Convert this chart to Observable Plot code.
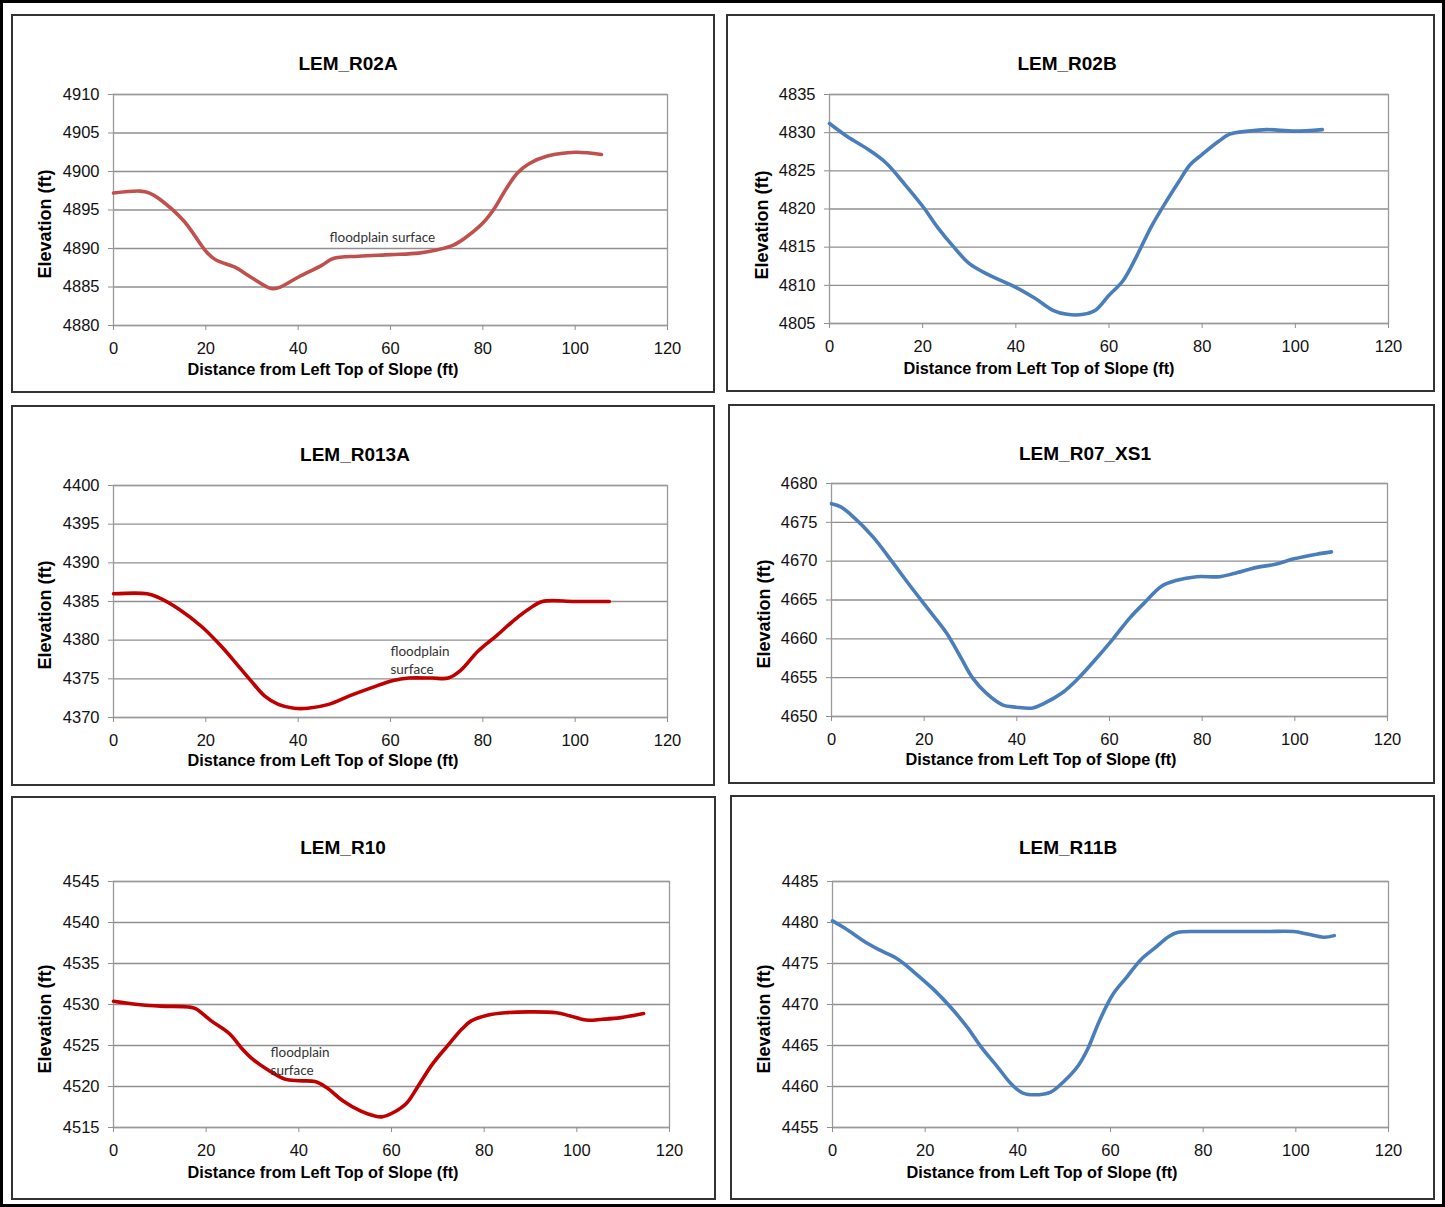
<!DOCTYPE html>
<html>
<head>
<meta charset="utf-8">
<script src="https://cdn.jsdelivr.net/npm/d3@7"></script>
<script src="https://cdn.jsdelivr.net/npm/@observablehq/plot@0.6"></script>
<style>
  html, body { margin: 0; padding: 0; background: #fff; }
  #page { position: relative; width: 1445px; height: 1207px; box-sizing: border-box; border: 3px solid #000; overflow: hidden; }
  .panel { position: absolute; box-sizing: border-box; border: 2px solid #333; background: #fff; overflow: visible; }
  .panel svg { position: absolute; left: -2px; top: -2px; max-width: none !important; }
  .title { position: absolute; transform: translate(-50%, -50%); font: bold 19px "Liberation Sans", Arial, sans-serif; color: #000; white-space: nowrap; }
  .xtitle { position: absolute; transform: translate(-50%, -50%); font: bold 16.3px "Liberation Sans", Arial, sans-serif; color: #000; white-space: nowrap; }
  .ytitle { position: absolute; transform: translate(-50%, -50%) rotate(-90deg); font: bold 18px "Liberation Sans", Arial, sans-serif; color: #000; white-space: nowrap; }
</style>
</head>
<body>
<div id="page"></div>
<script>
// ---------- data ----------
const titles = ["LEM_R02A", "LEM_R02B", "LEM_R013A", "LEM_R07_XS1", "LEM_R10", "LEM_R11B"];
const xTicks = [0, 20, 40, 60, 80, 100, 120];
const yTicksR02A = [4880, 4885, 4890, 4895, 4900, 4905, 4910];
const yTicksR02B = [4805, 4810, 4815, 4820, 4825, 4830, 4835];
const yTicksR013A = [4370, 4375, 4380, 4385, 4390, 4395, 4400];
const yTicksR07 = [4650, 4655, 4660, 4665, 4670, 4675, 4680];
const yTicksR10 = [4515, 4520, 4525, 4530, 4535, 4540, 4545];
const yTicksR11B = [4455, 4460, 4465, 4470, 4475, 4480, 4485];

const distR02A = [0, 5.8, 7.8, 9.8, 15.2, 20.2, 22.2, 26.2, 29.7, 34.2, 35.7, 40.1, 45.1, 47.6, 53.1, 60.1, 66.1, 70, 73.5, 76, 80, 82.5, 85, 87.5, 90, 94, 100, 105.7];
const elevR02A = [4897.2, 4897.45, 4897.2, 4896.5, 4893.6, 4889.5, 4888.5, 4887.6, 4886.3, 4884.8, 4884.9, 4886.3, 4887.8, 4888.7, 4889.0, 4889.2, 4889.4, 4889.8, 4890.4, 4891.3, 4893.3, 4895.2, 4897.7, 4899.8, 4901.0, 4902.0, 4902.5, 4902.2];

const distR02B = [0, 3.8, 8.3, 12.2, 16.2, 20.2, 23.2, 26.7, 30.1, 34.1, 40.1, 44.1, 48.1, 51, 54.5, 57, 60, 63, 66, 69, 71.9, 74.9, 77.4, 79.9, 83.4, 85.9, 89.9, 93.8, 99.8, 105.8];
const elevR02B = [4831.2, 4829.5, 4827.8, 4826.0, 4823.2, 4820.2, 4817.6, 4815.0, 4812.8, 4811.4, 4809.7, 4808.3, 4806.7, 4806.2, 4806.2, 4806.7, 4808.7, 4810.6, 4813.9, 4817.6, 4820.6, 4823.5, 4825.8, 4827.1, 4828.8, 4829.8, 4830.2, 4830.4, 4830.2, 4830.4];

const distR013A = [0, 7.3, 9.8, 14.2, 19.2, 23.2, 26.7, 29.7, 32.7, 35.7, 39.1, 42.1, 46.6, 51.1, 56.1, 60.6, 64.0, 69, 72.5, 75, 79, 83, 87, 89.9, 92.9, 99.9, 107.4];
const elevR013A = [4386, 4386, 4385.5, 4384.0, 4381.7, 4379.3, 4376.9, 4374.8, 4372.8, 4371.7, 4371.2, 4371.2, 4371.7, 4372.8, 4373.9, 4374.8, 4375.1, 4375.1, 4375.1, 4376.0, 4378.6, 4380.6, 4382.7, 4384.0, 4385.0, 4385.0, 4385.0];

const distR07 = [0, 2, 4, 9, 13, 17, 20.9, 24.9, 27.9, 30.4, 33.4, 36.9, 39.9, 43.4, 45.9, 49.9, 52.9, 56.9, 60.9, 64.4, 67.3, 71.3, 74.3, 78.8, 83.8, 86.8, 91.8, 95.8, 99.8, 104.7, 107.9];
const elevR07 = [4677.4, 4677.0, 4676.1, 4673.1, 4670.0, 4666.8, 4663.8, 4660.7, 4657.6, 4655.0, 4653.0, 4651.5, 4651.2, 4651.1, 4651.7, 4653.1, 4654.7, 4657.3, 4660.1, 4662.7, 4664.5, 4666.8, 4667.5, 4668.0, 4668.0, 4668.4, 4669.2, 4669.6, 4670.3, 4670.9, 4671.2];

const distR10 = [0, 5.3, 10.2, 16.2, 17.7, 21.1, 25.1, 27.6, 30.1, 33.1, 37.0, 40, 43.5, 45.9, 49.4, 53.4, 56.4, 57.9, 60.3, 63.3, 65.8, 68.8, 72.3, 75.2, 77.2, 80.7, 84.7, 89.6, 95.6, 98.6, 102, 105.5, 109.5, 114.4];
const elevR10 = [4530.4, 4530.0, 4529.8, 4529.7, 4529.5, 4528.0, 4526.4, 4524.7, 4523.3, 4522.1, 4520.9, 4520.7, 4520.6, 4519.9, 4518.3, 4517.0, 4516.4, 4516.3, 4516.8, 4518.0, 4520.1, 4522.7, 4525.1, 4527.0, 4528.0, 4528.7, 4529.0, 4529.1, 4529.0, 4528.6, 4528.1, 4528.2, 4528.4, 4528.9];

const distR11B = [0, 2.7, 7.7, 10.7, 14.2, 17.7, 21.7, 25.6, 29.1, 32.1, 35.6, 38.6, 41.1, 44.6, 47.1, 50.1, 53.1, 55.1, 57.6, 60.6, 63.6, 66.6, 69.6, 72.6, 74.6, 79.5, 85.5, 93.5, 99.5, 102.5, 106, 108.3];
const elevR11B = [4480.2, 4479.3, 4477.4, 4476.5, 4475.5, 4473.9, 4471.9, 4469.6, 4467.2, 4464.8, 4462.4, 4460.3, 4459.2, 4459.0, 4459.3, 4460.7, 4462.6, 4464.6, 4468.0, 4471.3, 4473.4, 4475.5, 4476.9, 4478.3, 4478.8, 4478.9, 4478.9, 4478.9, 4478.9, 4478.6, 4478.2, 4478.4];

// annotation labels (data units)
const notesR02A = [{text: "floodplain surface", x: 46.8, y: 4891.4}];
const notesR013A = [{text: "floodplain", x: 60, y: 4378.5}, {text: "surface", x: 60, y: 4376.2}];
const notesR10 = [{text: "floodplain", x: 33.9, y: 4524.15}, {text: "surface", x: 33.9, y: 4521.95}];

// ---------- layout ----------
const panels = [
  {title: titles[0], dist: distR02A, elev: elevR02A, yTicks: yTicksR02A, notes: notesR02A, color: "#c0504d",
   box: [11, 14, 704, 379], m: [80, 48, 68, 102], t: [335, 48], xt: [310, 353], yt: [32, 208]},
  {title: titles[1], dist: distR02B, elev: elevR02B, yTicks: yTicksR02B, notes: [], color: "#4a7ebb",
   box: [726, 14, 709, 378], m: [80, 47, 69, 103], t: [339, 48], xt: [311, 352], yt: [34, 209]},
  {title: titles[2], dist: distR013A, elev: elevR013A, yTicks: yTicksR013A, notes: notesR013A, color: "#c00000",
   box: [11, 405, 704, 381], m: [80, 48, 69, 102], t: [342, 48], xt: [310, 353], yt: [32, 208]},
  {title: titles[3], dist: distR07, elev: elevR07, yTicks: yTicksR07, notes: [], color: "#4a7ebb",
   box: [728, 404, 707, 380], m: [79, 48, 68, 103], t: [355, 48], xt: [311, 353], yt: [34, 208]},
  {title: titles[4], dist: distR10, elev: elevR10, yTicks: yTicksR10, notes: notesR10, color: "#c00000",
   box: [11, 796, 705, 404], m: [85, 47, 73, 102], t: [330, 50], xt: [310, 374], yt: [32, 221]},
  {title: titles[5], dist: distR11B, elev: elevR11B, yTicks: yTicksR11B, notes: [], color: "#4a7ebb",
   box: [730, 795, 705, 405], m: [86, 47, 73, 102], t: [336, 51], xt: [310, 375], yt: [32, 222]}
];

const page = document.getElementById("page");
const fmt = d3.format("d");

for (const p of panels) {
  const [bx, by, bw, bh] = p.box;
  const div = document.createElement("div");
  div.className = "panel";
  div.style.left = (bx - 3) + "px";
  div.style.top = (by - 3) + "px";
  div.style.width = bw + "px";
  div.style.height = bh + "px";
  page.appendChild(div);

  const data = p.dist.map((d, i) => ({dist: d, elev: p.elev[i]}));
  const yDomain = [p.yTicks[0], p.yTicks[p.yTicks.length - 1]];

  const svg = Plot.plot({
    width: bw, height: bh,
    marginTop: p.m[0], marginRight: p.m[1], marginBottom: p.m[2], marginLeft: p.m[3],
    style: {fontFamily: "'Liberation Sans', Arial, sans-serif", fontSize: "16.5px", color: "#111", background: "transparent", overflow: "visible"},
    x: {domain: [0, 120]},
    y: {domain: yDomain},
    marks: [
      Plot.gridY(p.yTicks, {stroke: "#8f8f8f", strokeOpacity: 1, strokeWidth: 1.3}),
      Plot.frame({stroke: "#9a9a9a", strokeWidth: 1.3}),
      Plot.axisY(p.yTicks, {tickSize: 5, tickPadding: 9, tickFormat: fmt, label: null, stroke: "#8f8f8f"}),
      Plot.axisX(xTicks, {tickSize: 5, tickPadding: 12, tickFormat: fmt, label: null, stroke: "#8f8f8f"}),
      Plot.line(data, {x: "dist", y: "elev", stroke: p.color, strokeWidth: 3.6, curve: "catmull-rom"}),
      Plot.text(p.notes, {x: "x", y: "y", text: "text", textAnchor: "start", fill: "#333",
        fontFamily: "Lato, 'Open Sans', sans-serif", fontSize: 13.5})
    ]
  });
  div.appendChild(svg);

  const t = document.createElement("div");
  t.className = "title"; t.textContent = p.title;
  t.style.left = p.t[0] + "px"; t.style.top = p.t[1] + "px";
  div.appendChild(t);

  const xt = document.createElement("div");
  xt.className = "xtitle"; xt.textContent = "Distance from Left Top of Slope (ft)";
  xt.style.left = p.xt[0] + "px"; xt.style.top = p.xt[1] + "px";
  div.appendChild(xt);

  const yt = document.createElement("div");
  yt.className = "ytitle"; yt.textContent = "Elevation (ft)";
  yt.style.left = p.yt[0] + "px"; yt.style.top = p.yt[1] + "px";
  div.appendChild(yt);
}
</script>
</body>
</html>
